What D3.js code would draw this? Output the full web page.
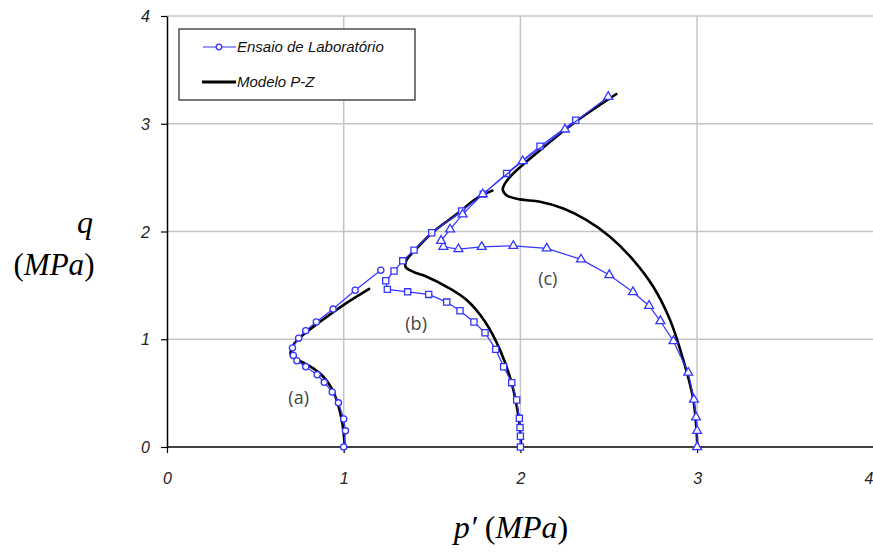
<!DOCTYPE html>
<html>
<head>
<meta charset="utf-8">
<script src="https://cdn.jsdelivr.net/npm/d3@7"></script>
<style>
  body { margin: 0; background: #fff; }
  svg { display: block; }
</style>
</head>
<body>
<svg id="drawing_region"></svg>
<script>
// ensaio de laboratório (p', q) em MPa
const labA = [[1.0,0],[1.01,0.15],[1.0,0.26],[0.97,0.41],[0.935,0.51],[0.89,0.60],[0.85,0.67],[0.785,0.745],
  [0.735,0.80],[0.715,0.85],[0.71,0.92],[0.745,1.01],[0.785,1.08],[0.845,1.16],[0.94,1.28],[1.065,1.455],[1.21,1.64]]
const labB = [[2.0,0],[2.0,0.10],[1.998,0.18],[1.994,0.266],[1.979,0.436],[1.951,0.597],[1.905,0.745],[1.86,0.906],
  [1.80,1.06],[1.737,1.16],[1.658,1.264],[1.583,1.345],[1.481,1.416],[1.362,1.44],[1.247,1.463],[1.238,1.543],
  [1.285,1.633],[1.334,1.728],[1.398,1.827],[1.498,1.988],[1.668,2.19],[1.79,2.347],[1.922,2.539],[2.111,2.792],[2.313,3.033]]
const labC = [[3.0,0],[3.0,0.15],[2.994,0.276],[2.982,0.44],[2.95,0.69],[2.866,0.983],[2.792,1.169],[2.728,1.311],
  [2.637,1.438],[2.503,1.596],[2.343,1.741],[2.149,1.843],[1.96,1.867],[1.781,1.858],[1.649,1.837],[1.564,1.858],
  [1.551,1.914],[1.602,2.02],[1.673,2.159],[1.787,2.347],[2.013,2.653],[2.252,2.947],[2.497,3.25]]

// modelo P-Z
const modelA = [[1.005,0],[1.0,0.127],[0.987,0.266],[0.966,0.405],[0.932,0.545],[0.885,0.652],[0.828,0.73],
  [0.772,0.782],[0.724,0.822],[0.70,0.853],[0.715,0.946],[0.762,1.03],[0.866,1.162],[0.998,1.317],[1.149,1.472]]
const modelB = [[2.005,0],[1.992,0.25],[1.951,0.59],[1.885,0.90],[1.80,1.163],[1.696,1.364],[1.583,1.487],
  [1.47,1.58],[1.394,1.626],[1.35,1.672],[1.356,1.735],[1.413,1.843],[1.507,1.997],[1.64,2.161],[1.753,2.307],[1.847,2.384]]
const modelC = [[3.002,0],[2.979,0.436],[2.922,0.807],[2.847,1.178],[2.752,1.487],[2.639,1.735],[2.507,1.951],
  [2.375,2.106],[2.243,2.214],[2.111,2.276],[1.998,2.298],[1.922,2.335],[1.90,2.39],[1.913,2.446],[1.96,2.539],
  [2.111,2.755],[2.299,3.003],[2.548,3.281]]

const xTicks = [0, 1, 2, 3, 4]
const yTicks = [0, 1, 2, 3, 4]
const curveLabels = [{text: '(a)', p: 0.745, q: 0.46}, {text: '(b)', p: 1.41, q: 1.14}, {text: '(c)', p: 2.155, q: 1.565}]
const legendItems = ['Ensaio de Laboratório', 'Modelo P-Z']

const width = 873, height = 553
const margin = {top: 16, left: 167, right: 0, bottom: 106}
const blue = '#3434ff'

const svg = d3.select('#drawing_region').attr('width', width).attr('height', height)

const x = d3.scaleLinear().domain([0, 4]).range([margin.left, 873.8])
const y = d3.scaleLinear().domain([0, 4]).range([447, margin.top])

// grade
svg.append('g').selectAll('line').data(yTicks.filter(d => d > 0)).enter()
  .append('line')
  .attr('x1', x(0)).attr('x2', width)
  .attr('y1', d => y(d)).attr('y2', d => y(d))
  .attr('stroke', '#c4c4c4').attr('stroke-width', 1.5)
svg.append('g').selectAll('line').data(xTicks.filter(d => d > 0 && d < 4)).enter()
  .append('line')
  .attr('x1', d => x(d)).attr('x2', d => x(d))
  .attr('y1', y(4)).attr('y2', y(0))
  .attr('stroke', '#c4c4c4').attr('stroke-width', 1.5)

// eixos
const xaxis = d3.axisBottom(x).tickValues(xTicks).tickSize(6).tickSizeOuter(0).tickFormat(d3.format('d'))
const yaxis = d3.axisLeft(y).tickValues(yTicks).tickSize(6).tickSizeOuter(0).tickFormat(d3.format('d'))

const xg = svg.append('g').attr('transform', `translate(0,${y(0)})`).call(xaxis)
const yg = svg.append('g').attr('transform', `translate(${x(0)},0)`).call(yaxis)
xg.select('.domain').attr('stroke', '#000').attr('stroke-width', 1.5).attr('d', `M${x(0)},0H${width}`)
yg.select('.domain').attr('stroke', '#000').attr('stroke-width', 1.5)
xg.selectAll('.tick line').attr('stroke', '#000').attr('stroke-width', 1.2)
yg.selectAll('.tick line').attr('stroke', '#000').attr('stroke-width', 1.2)
xg.selectAll('.tick text').attr('dy', 0).attr('y', 37)
  .attr('font-family', 'Liberation Sans, Arial, sans-serif').attr('font-style', 'italic')
  .attr('font-size', 16).attr('fill', '#222')
  .attr('text-anchor', d => d === 4 ? 'end' : 'middle')
  .attr('x', d => d === 4 ? -1 : 0)
yg.selectAll('.tick text').attr('x', -17).attr('dy', '0.35em')
  .attr('font-family', 'Liberation Sans, Arial, sans-serif').attr('font-style', 'italic')
  .attr('font-size', 16).attr('fill', '#222')

// curvas do modelo
const line = d3.line().x(d => x(d[0])).y(d => y(d[1])).curve(d3.curveCatmullRom.alpha(0.5))
const labLine = d3.line().x(d => x(d[0])).y(d => y(d[1]))

const plot = svg.append('g')
plot.selectAll('path.model').data([modelA, modelB, modelC]).enter()
  .append('path').attr('class', 'model')
  .attr('d', line)
  .attr('fill', 'none').attr('stroke', '#000').attr('stroke-width', 2.6)

// ensaios
const labs = [{data: labA, sym: d3.symbolCircle, size: 30}, {data: labB, sym: d3.symbolSquare, size: 38},
  {data: labC, sym: d3.symbolTriangle, size: 34}]
labs.forEach(s => {
  plot.append('path').attr('d', labLine(s.data))
    .attr('fill', 'none').attr('stroke', blue).attr('stroke-width', 1.2)
  plot.append('g').selectAll('path').data(s.data).enter()
    .append('path')
    .attr('d', d3.symbol().type(s.sym).size(s.size))
    .attr('transform', d => `translate(${x(d[0])},${y(d[1])})`)
    .attr('fill', '#fff').attr('stroke', blue).attr('stroke-width', 1.3)
})

// rótulos (a) (b) (c)
svg.append('g').selectAll('text').data(curveLabels).enter()
  .append('text')
  .attr('x', d => x(d.p)).attr('y', d => y(d.q))
  .attr('text-anchor', 'middle').attr('dy', '0.35em')
  .attr('font-family', 'Open Sans, Liberation Sans, sans-serif').attr('font-size', 18).attr('fill', '#444')
  .text(d => d.text)

// legenda
const legend = svg.append('g').attr('transform', 'translate(179,29)')
legend.append('rect').attr('width', 236).attr('height', 71)
  .attr('fill', '#fff').attr('stroke', '#333').attr('stroke-width', 1.3)
legend.append('line').attr('x1', 24).attr('x2', 57).attr('y1', 18).attr('y2', 18)
  .attr('stroke', blue).attr('stroke-width', 1.2)
legend.append('circle').attr('cx', 40).attr('cy', 18).attr('r', 2.8)
  .attr('fill', '#fff').attr('stroke', blue).attr('stroke-width', 1.3)
legend.append('line').attr('x1', 23).attr('x2', 57).attr('y1', 53).attr('y2', 53)
  .attr('stroke', '#000').attr('stroke-width', 3)
legend.selectAll('text').data(legendItems).enter()
  .append('text')
  .attr('x', 58).attr('y', (d, i) => 18 + i * 35).attr('dy', '0.35em')
  .attr('font-family', 'Liberation Sans, Arial, sans-serif').attr('font-style', 'italic')
  .attr('font-size', 15).attr('fill', '#111')
  .text(d => d)

// títulos dos eixos
svg.append('text').attr('x', 511).attr('y', 538).attr('text-anchor', 'middle')
  .attr('font-family', 'Liberation Serif, serif').attr('font-size', 32).attr('fill', '#000')
  .html('<tspan font-style="italic">p′</tspan> (<tspan font-style="italic">MPa</tspan>)')
svg.append('text').attr('x', 85).attr('y', 233).attr('text-anchor', 'middle')
  .attr('font-family', 'Liberation Serif, serif').attr('font-size', 32).attr('font-style', 'italic').attr('fill', '#000')
  .text('q')
svg.append('text').attr('x', 54).attr('y', 275).attr('text-anchor', 'middle')
  .attr('font-family', 'Liberation Serif, serif').attr('font-size', 31).attr('fill', '#000')
  .html('(<tspan font-style="italic">MPa</tspan>)')
</script>
</body>
</html>
